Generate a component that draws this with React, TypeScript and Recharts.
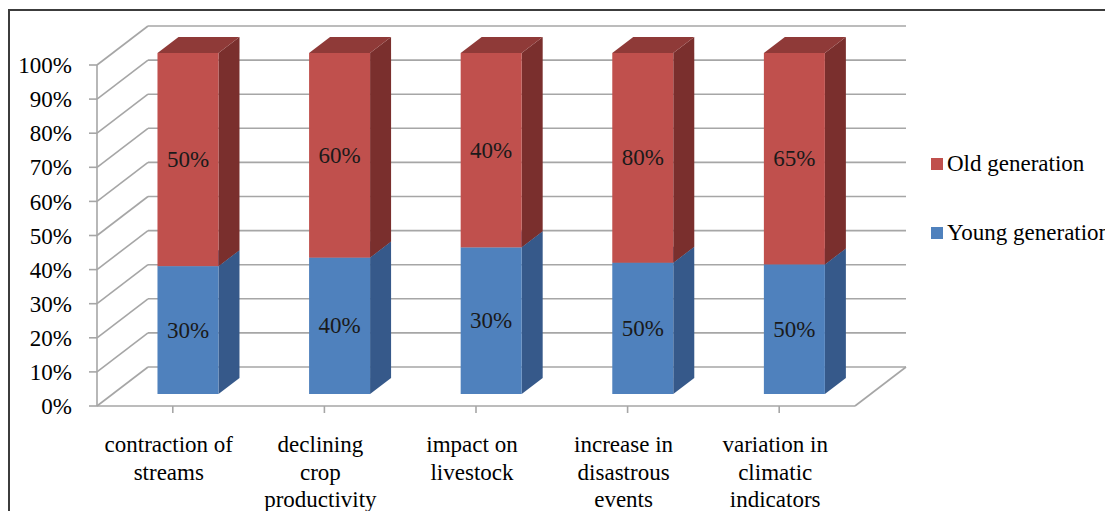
import React from 'react';
import { BarChart, Bar, XAxis, YAxis, CartesianGrid, Legend, LabelList } from 'recharts';

// ---- data ----
const categories = [
  'contraction of\nstreams',
  'declining\ncrop\nproductivity',
  'impact on\nlivestock',
  'increase in\ndisastrous\nevents',
  'variation in\nclimatic\nindicators',
];
// share of each bar's height (100% stacked), as drawn
const youngShare = [37.5, 40, 43, 38.5, 38];
const oldShare = [62.5, 60, 57, 61.5, 62];
// value labels printed on the bars
const youngLabels = ['30%', '40%', '30%', '50%', '50%'];
const oldLabels = ['50%', '60%', '40%', '80%', '65%'];
const yTicks = [0, 10, 20, 30, 40, 50, 60, 70, 80, 90, 100];
const youngName = 'Young generation';
const oldName = 'Old generation';

const data = categories.map((c, i) => ({
  cat: c,
  young: youngShare[i],
  old: oldShare[i],
  youngLabel: youngLabels[i],
  oldLabel: oldLabels[i],
}));

// ---- style / layout ----
const FONT = 'Liberation Serif, Times New Roman, Tinos, DejaVu Serif, serif';
const W = 1105;
const H = 511;
const MARGIN = { top: 57, right: 258, bottom: 0, left: 9 };
const YAXIS_W = 80;
const XAXIS_H = 113;
const PLOT_BOTTOM = H - MARGIN.bottom - XAXIS_H;
const WALL = { dx: 51, dy: -39 };
const BAR_SHIFT = { dx: 15, dy: -12 };
const BAR_DEPTH = { dx: 21, dy: -16 };
const GRID = '#a6a6a6';

const COLORS = {
  young: { front: '#4F81BD', side: '#36598A', top: '#3F6798' },
  old: { front: '#C0504D', side: '#7A2F2D', top: '#8F3A38' },
};

const make3D = (c: any) => (props: any) => {
  const { x, y, width, height } = props;
  if (x == null || y == null || !width || height == null) return <g />;
  const fx = x + BAR_SHIFT.dx;
  const fy = y + BAR_SHIFT.dy;
  const { dx, dy } = BAR_DEPTH;
  return (
    <g>
      <polygon
        points={`${fx + width},${fy} ${fx + width + dx},${fy + dy} ${fx + width + dx},${fy + dy + height} ${fx + width},${fy + height}`}
        fill={c.side}
      />
      <polygon
        points={`${fx},${fy} ${fx + width},${fy} ${fx + width + dx},${fy + dy} ${fx + dx},${fy + dy}`}
        fill={c.top}
      />
      <rect x={fx} y={fy} width={width} height={height} fill={c.front} />
    </g>
  );
};

const renderBarLabel = (props: any) => {
  const vb = props.viewBox || props;
  const x = props.x ?? vb.x;
  const y = props.y ?? vb.y;
  const width = props.width ?? vb.width;
  const height = props.height ?? vb.height;
  return (
    <text
      x={x + width / 2 + BAR_SHIFT.dx}
      y={y + height / 2 + BAR_SHIFT.dy}
      textAnchor="middle"
      dominantBaseline="central"
      fontSize={23}
      style={{ fontFamily: FONT }}
      fill="#1a1a1a"
    >
      {props.value}
    </text>
  );
};

const renderGridLine = (p: any) => {
  const { x1, y1, x2 } = p;
  const bx1 = x1 + WALL.dx;
  const bx2 = x2 + WALL.dx;
  const by = y1 + WALL.dy;
  const floor = Math.abs(y1 - PLOT_BOTTOM) < 1;
  return (
    <g key={p.key ?? `g-${y1}`}>
      <line x1={x1} y1={y1} x2={bx1} y2={by} stroke={GRID} strokeWidth={1.6} />
      <line x1={bx1} y1={by} x2={bx2} y2={by} stroke={GRID} strokeWidth={1.6} />
      {floor && <line x1={x2} y1={y1} x2={bx2} y2={by} stroke={GRID} strokeWidth={1.6} />}
    </g>
  );
};

const CategoryTick = (props: any) => {
  const { x, y, payload } = props;
  const lines = String(payload.value).split('\n');
  const tx = x - 4;
  return (
    <text x={tx} y={y + 37} textAnchor="middle" style={{ fontFamily: FONT }} fontSize={23} fill="#000">
      {lines.map((l, i) => (
        <tspan key={i} x={tx} dy={i === 0 ? 0 : 27.5}>
          {l}
        </tspan>
      ))}
    </text>
  );
};

const renderLegend = (props: any) => {
  const items = [...(props.payload || [])];
  items.sort((a: any, b: any) => (a.value === oldName ? -1 : b.value === oldName ? 1 : 0));
  return (
    <div style={{ fontFamily: FONT, fontSize: 23, color: '#000' }}>
      {items.map((it: any, i: number) => (
        <div
          key={i}
          style={{
            display: 'flex',
            alignItems: 'center',
            height: 24,
            marginBottom: i === 0 ? 44.5 : 0,
            whiteSpace: 'nowrap',
          }}
        >
          <span style={{ width: 12, height: 12, background: it.color, marginRight: 4, display: 'inline-block' }} />
          <span>{it.value}</span>
        </div>
      ))}
    </div>
  );
};

export default function App() {
  return (
    <div style={{ position: 'relative', width: W, height: H, overflow: 'hidden', marginBottom: -8, fontFamily: FONT }}>
      <div
        style={{
          position: 'absolute',
          left: 0,
          top: 1,
          width: W + 20,
          height: H + 20,
          borderLeft: '2px solid #3c3c3c',
          borderTop: '2px solid #3c3c3c',
        }}
      />
      <div style={{ position: 'absolute', left: 0, top: 0 }}>
        <BarChart width={W} height={H} data={data} margin={MARGIN} barCategoryGap="30%" style={{ fontFamily: FONT }}>
          <CartesianGrid vertical={false} horizontal={renderGridLine} />
          <XAxis
            dataKey="cat"
            height={XAXIS_H}
            interval={0}
            tickSize={7}
            tickMargin={2}
            tick={<CategoryTick />}
            axisLine={{ stroke: GRID, strokeWidth: 1.6 }}
            tickLine={{ stroke: GRID, strokeWidth: 1.6 }}
          />
          <YAxis
            type="number"
            domain={[0, 100]}
            ticks={yTicks}
            interval={0}
            width={YAXIS_W}
            tickSize={8}
            tickMargin={17}
            tickFormatter={(v: number) => `${v}%`}
            tick={{ fill: '#000', fontSize: 23, style: { fontFamily: FONT } }}
            axisLine={{ stroke: GRID, strokeWidth: 1.6 }}
            tickLine={{ stroke: GRID, strokeWidth: 1.6 }}
          />
          <Legend
            layout="vertical"
            align="center"
            verticalAlign="middle"
            content={renderLegend}
            wrapperStyle={{ left: 923, top: 144, width: 200 }}
          />
          <Bar
            dataKey="young"
            name={youngName}
            stackId="a"
            fill={COLORS.young.front}
            shape={make3D(COLORS.young)}
            isAnimationActive={false}
          >
            <LabelList dataKey="youngLabel" content={renderBarLabel} />
          </Bar>
          <Bar
            dataKey="old"
            name={oldName}
            stackId="a"
            fill={COLORS.old.front}
            shape={make3D(COLORS.old)}
            isAnimationActive={false}
          >
            <LabelList dataKey="oldLabel" content={renderBarLabel} />
          </Bar>
        </BarChart>
      </div>
    </div>
  );
}
